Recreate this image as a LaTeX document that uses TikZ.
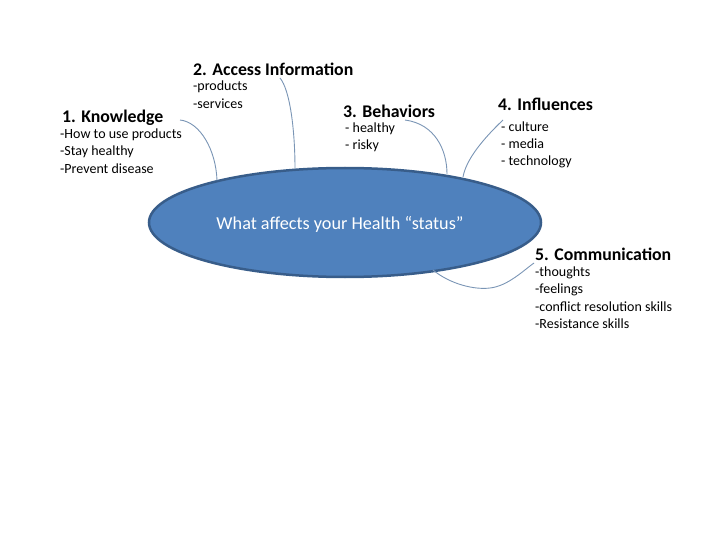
\documentclass[tikz,border=0pt]{standalone}
\usepackage{fontspec}
\setmainfont{Carlito}
\usetikzlibrary{shapes.geometric}
\definecolor{efill}{HTML}{4F81BD}
\definecolor{eline}{HTML}{385D8A}
\definecolor{conn}{HTML}{7A95B5}
\tikzset{
  ttl/.style={anchor=west,inner sep=0pt,font=\fontsize{17.8}{20}\selectfont\bfseries},
  itm/.style={anchor=west,inner sep=0pt,font=\fontsize{14}{16}\selectfont},
  conline/.style={draw=conn,line width=0.9pt},
}
\begin{document}
\begin{tikzpicture}[x=1pt,y=-1pt]
\useasboundingbox (0,0) rectangle (720,540);
\node[ellipse,fill=efill,draw=eline,line width=2.5pt,minimum width=392pt,minimum height=109pt,inner sep=0pt] (c) at (345,222.5) {};
\node[anchor=center,inner sep=0pt,text=white,font=\fontsize{18.2}{20}\selectfont] (ct) at (340,224) {What affects your Health “status”};
% 1
\node[ttl] (t1) at (62,118) {1. Knowledge};
\node[itm] (a1) at (60,135) {-How to use products};
\node[itm] (a2) at (60,152) {-Stay healthy};
\node[itm] (a3) at (60,169) {-Prevent disease};
% 2
\node[ttl] (t2) at (193,69) {2. Access Information};
\node[itm] (b1) at (193,87) {-products};
\node[itm] (b2) at (193,104) {-services};
% 3
\node[ttl] (t3) at (343,111) {3. Behaviors};
\node[itm] (c1) at (345,129) {- healthy};
\node[itm] (c2) at (345,146) {- risky};
% 4
\node[ttl] (t4) at (498,104) {4. Influences};
\node[itm] (d1) at (501,127) {- culture};
\node[itm] (d2) at (501,144) {- media};
\node[itm] (d3) at (501,162) {- technology};
% 5
\node[ttl] (t5) at (535,254) {5. Communication};
\node[itm] (e1) at (535,273) {-thoughts};
\node[itm] (e2) at (535,290) {-feelings};
\node[itm] (e3) at (535,307) {-conflict resolution skills};
\node[itm] (e4) at (535,324) {-Resistance skills};
% connector ends
\coordinate (k1) at (180,120);
\coordinate (k2) at (217,180.5);
\coordinate (p1) at (280,78);
\coordinate (p2) at (295,169);
\coordinate (q1) at (405,120);
\coordinate (q2) at (447,174);
\coordinate (r1) at (503,120);
\coordinate (r2) at (463,177);
\coordinate (s1) at (433,270);
\coordinate (s2) at (490,288);
\coordinate (s3) at (534,263);
\draw[conline] (k1) .. controls (200,122) and (216,150) .. (k2);
\draw[conline] (p1) .. controls (290,90) and (295,130) .. (p2);
\draw[conline] (q1) .. controls (435,124) and (447,150) .. (q2);
\draw[conline] (r1) .. controls (482,140) and (466,160) .. (r2);
\draw[conline] (s1) .. controls (450,284) and (474,290) .. (s2) .. controls (508,286) and (524,270) .. (s3);
\end{tikzpicture}
\end{document}
